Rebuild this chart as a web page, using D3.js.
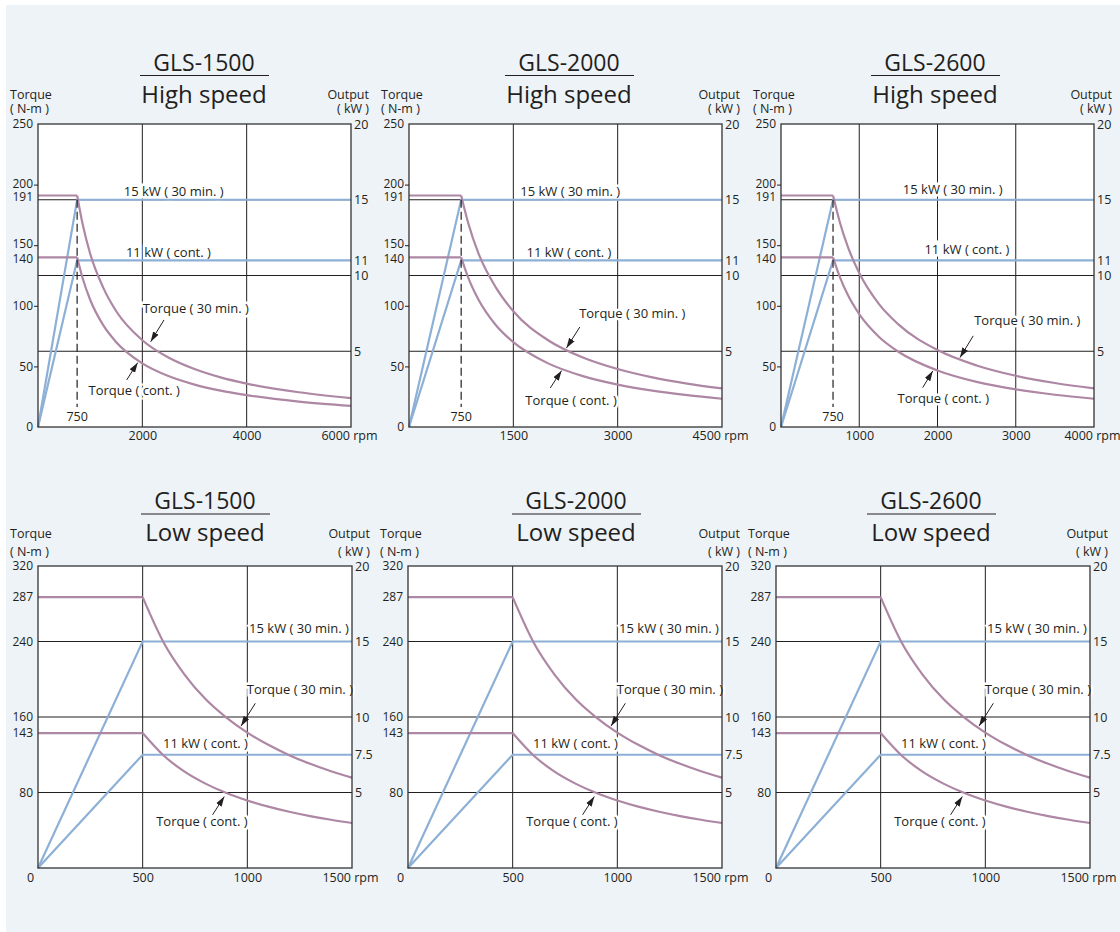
<!DOCTYPE html>
<head>
  <meta charset="utf-8">
  <script src="https://d3js.org/d3.v7.min.js"></script>
  <style>
    body { margin:0; background:#fff; }
    text { font-family: 'Open Sans', sans-serif; }
  </style>
</head>

<body>
  <script>
    // ---- data ----
    var models = ['GLS-1500', 'GLS-2000', 'GLS-2600'];

    // high speed range
    var hsMaxRpm = [6000, 4500, 4000];
    var hsRpmTicks = [[2000, 4000, 6000], [1500, 3000, 4500], [1000, 2000, 3000, 4000]];
    var hsKneeLabel = '750';
    var hsTorqueTicks = [0, 50, 100, 140, 150, 191, 200, 250];
    var hsTorqueMarks = [50, 100, 150, 200];
    var hsOutputTicks = [5, 10, 11, 15, 20];
    var hsRpm = [
      [0, 750, 850, 1000, 1250, 1500, 2000, 2500, 3000, 3500, 4000, 5000, 6000],
      [0, 750, 850, 1000, 1250, 1500, 2000, 2500, 3000, 3500, 4000, 4500],
      [0, 665, 750, 850, 1000, 1250, 1500, 2000, 2500, 3000, 3500, 4000]
    ];
    var hsTorque30 = [
      [191, 191, 168.5, 143, 115, 95.5, 71.6, 57.3, 47.8, 40.9, 35.8, 28.7, 23.9],
      [191, 191, 168.5, 143, 115, 95.5, 71.6, 57.3, 47.8, 40.9, 35.8, 31.8],
      [191, 191, 169.4, 149.4, 127, 101.6, 84.7, 63.5, 50.8, 42.3, 36.3, 31.8]
    ];
    var hsTorqueCont = [
      [140, 140, 123.5, 105, 84, 70, 52.5, 42, 35, 30, 26.3, 21, 17.5],
      [140, 140, 123.5, 105, 84, 70, 52.5, 42, 35, 30, 26.3, 23.3],
      [140, 140, 124.1, 109.5, 93.1, 74.5, 62.1, 46.6, 37.2, 31, 26.6, 23.3]
    ];
    var hsOutputRpm = [[0, 750, 6000], [0, 750, 4500], [0, 665, 4000]];
    var hsOutput30 = [0, 15, 15];
    var hsOutputCont = [0, 11, 11];

    // low speed range (same for all three)
    var lsMaxRpm = 1500;
    var lsRpmTicks = [500, 1000, 1500];
    var lsTorqueTicks = [80, 143, 160, 240, 287, 320];
    var lsOutputTicks = [5, 7.5, 10, 15, 20];
    var lsRpm = [0, 500, 600, 700, 800, 900, 1000, 1100, 1200, 1300, 1400, 1500];
    var lsTorque30 = [287, 287, 239, 205, 179, 159.4, 143.5, 130.5, 119.6, 110.4, 102.5, 95.7];
    var lsTorqueCont = [143, 143, 119.2, 102.1, 89.4, 79.4, 71.5, 65, 59.6, 55, 51.1, 47.7];
    var lsOutputRpm = [0, 500, 1500];
    var lsOutput30 = [0, 15, 15];
    var lsOutputCont = [0, 7.5, 7.5];

    // output grid lines (kW)
    var outputGrid = [5, 10, 15];

    // annotation anchors in chart units [rpm, torque]
    var hsAnn = [
      { kw30: [2600, 191], kwCont: [2500, 140],
        t30: { label: [3025, 94], tail: [2415, 88.3], tip: [2160, 70.4] },
        tCont: { label: [1845, 26.4], tail: [1700, 38.8], tip: [1911, 53.1] } },
      { kw30: [2317, 191], kwCont: [2300, 140],
        t30: { label: [3210, 90], tail: [2456, 82.5], tip: [2264, 65.2] },
        tCont: { label: [2330, 18.4], tail: [2031, 32.2], tip: [2193, 46.5] } },
      { kw30: [2195, 192], kwCont: [2376, 142.6],
        t30: { label: [3148, 84], tail: [2457, 75.2], tip: [2287, 57.3] },
        tCont: { label: [2074, 19.6], tail: [1811, 32.5], tip: [1939, 46.2] } }
    ];
    var lsAnn = { kw30: [1247, 248.5], kwCont: [800, 127],
      t30: { label: [1251, 184], tail: [1038, 174.5], tip: [970, 150.5] },
      tCont: { label: [783, 44], tail: [834, 56.4], tip: [890, 75.7] } };

    // ---- drawing ----
    var width = 1120, height = 932;
    var ink = '#231f20', purple = '#ad87a3', blue = '#8db0d6';

    var svg = d3.select('body').append('svg')
      .attr('width', width)
      .attr('height', height);

    svg.append('rect')
      .attr('x', 6).attr('y', 5)
      .attr('width', width - 6).attr('height', height - 5)
      .attr('fill', '#eef3f8');

    svg.append('defs').append('marker')
      .attr('id', 'arrow')
      .attr('markerUnits', 'userSpaceOnUse')
      .attr('viewBox', '0 -4 10 8')
      .attr('refX', 10).attr('refY', 0)
      .attr('markerWidth', 10).attr('markerHeight', 8)
      .attr('orient', 'auto')
      .append('path')
      .attr('d', 'M0,-3.2L10,0L0,3.2Z')
      .attr('fill', ink);

    function drawPanel(c) {
      var bottom = c.top + c.height, right = c.left + c.width;
      var x = d3.scaleLinear().domain([0, c.rpmMax]).range([c.left, right]);
      var yT = d3.scaleLinear().domain([0, c.torqueMax]).range([bottom, c.top]);
      var yP = d3.scaleLinear().domain([0, 20]).range([bottom, c.top]);
      var g = svg.append('g');

      g.append('rect')
        .attr('x', c.left).attr('y', c.top)
        .attr('width', c.width).attr('height', c.height)
        .attr('fill', '#fff');

      // grid
      g.selectAll('.vgrid')
        .data(c.rpmTicks.filter(d => d < c.rpmMax))
        .enter().append('line')
        .attr('x1', d => x(d)).attr('x2', d => x(d))
        .attr('y1', c.top).attr('y2', bottom)
        .attr('stroke', ink).attr('stroke-width', 1);
      g.selectAll('.hgrid')
        .data(outputGrid)
        .enter().append('line')
        .attr('x1', c.left).attr('x2', right)
        .attr('y1', d => yP(d)).attr('y2', d => yP(d))
        .attr('stroke', ink).attr('stroke-width', 1);

      var halo = g.append('g');
      var lines = g.append('g');
      var labels = g.append('g');

      function label(txt, at) {
        [halo, labels].forEach(function(layer, i) {
          var t = layer.append('text')
            .attr('x', x(at[0])).attr('y', yT(at[1]))
            .attr('text-anchor', 'middle')
            .style('font-size', '13px')
            .text(txt);
          if (i == 0) t.attr('fill', 'none').attr('stroke', '#fff').attr('stroke-width', 5);
          else t.attr('fill', ink);
        });
      }

      // output lines
      var outLine = d3.line().x(d => x(d[0])).y(d => yP(d[1]));
      [c.out30, c.outCont].forEach(function(s) {
        lines.append('path')
          .datum(d3.zip(c.outRpm, s))
          .attr('d', outLine)
          .attr('fill', 'none')
          .attr('stroke', blue).attr('stroke-width', 2.2);
      });

      // torque curves: flat up to the knee, then falling
      var flat = d3.line().x(d => x(d[0])).y(d => yT(d[1]));
      var fall = d3.line().curve(d3.curveMonotoneX).x(d => x(d[0])).y(d => yT(d[1]));
      [c.t30, c.tCont].forEach(function(s) {
        var pts = d3.zip(c.rpm, s);
        lines.append('path').datum(pts.slice(0, 2)).attr('d', flat)
          .attr('fill', 'none').attr('stroke', purple).attr('stroke-width', 2.2);
        lines.append('path').datum(pts.slice(1)).attr('d', fall)
          .attr('fill', 'none').attr('stroke', purple).attr('stroke-width', 2.2);
      });

      // knee marker
      if (c.kneeLabel) {
        var kx = x(c.outRpm[1]);
        lines.append('line')
          .attr('x1', kx).attr('x2', kx)
          .attr('y1', yP(c.out30[1])).attr('y2', bottom - 20)
          .attr('stroke', ink).attr('stroke-width', 1.2)
          .attr('stroke-dasharray', '8,4');
        labels.append('text')
          .attr('x', kx).attr('y', bottom - 6)
          .attr('text-anchor', 'middle')
          .attr('fill', ink).style('font-size', '12.5px')
          .text(c.kneeLabel);
      }

      g.append('rect')
        .attr('x', c.left).attr('y', c.top)
        .attr('width', c.width).attr('height', c.height)
        .attr('fill', 'none').attr('stroke', '#333').attr('stroke-width', 1.3);

      // annotations
      var a = c.ann;
      label('15 kW ( 30 min. )', a.kw30);
      label('11 kW ( cont. )', a.kwCont);
      label('Torque ( 30 min. )', a.t30.label);
      label('Torque ( cont. )', a.tCont.label);
      [a.t30, a.tCont].forEach(function(p) {
        labels.append('line')
          .attr('x1', x(p.tail[0])).attr('y1', yT(p.tail[1]))
          .attr('x2', x(p.tip[0])).attr('y2', yT(p.tip[1]))
          .attr('stroke', ink).attr('stroke-width', 1)
          .attr('marker-end', 'url(#arrow)');
      });

      // axes
      function styleAxis(ax, size) {
        ax.select('.domain').remove();
        ax.attr('font-family', null).attr('font-size', null).attr('color', ink);
        ax.selectAll('text').style('font-size', size || '12.5px');
      }
      var left = g.append('g')
        .attr('transform', 'translate(' + c.left + ',0)')
        .call(d3.axisLeft(yT).tickValues(c.torqueTicks).tickSize(0).tickPadding(5).tickFormat(d => d));
      styleAxis(left, '12px');
      // pairs of close labels (200/191, 150/140) are pushed slightly apart
      left.selectAll('text').attr('dy', function(d) {
        var near = c.torqueTicks.some(o => o != d && Math.abs(yT(o) - yT(d)) < 13);
        if (!near) return '0.32em';
        var above = c.torqueTicks.some(o => o < d && Math.abs(yT(o) - yT(d)) < 13);
        return above ? '0.2em' : '0.45em';
      });
      if (c.torqueMarks) {
        var marks = g.append('g')
          .attr('transform', 'translate(' + c.left + ',0)')
          .call(d3.axisLeft(yT).tickValues(c.torqueMarks).tickSize(4).tickFormat(''));
        styleAxis(marks);
      }
      var rightAx = g.append('g')
        .attr('transform', 'translate(' + right + ',0)')
        .call(d3.axisRight(yP).tickValues(c.outputTicks).tickSize(0).tickPadding(3).tickFormat(d => d));
      styleAxis(rightAx);
      var xTicks = c.zeroBelow ? [0].concat(c.rpmTicks) : c.rpmTicks;
      var bottomAx = g.append('g')
        .attr('transform', 'translate(0,' + bottom + ')')
        .call(d3.axisBottom(x).tickValues(xTicks).tickSize(0).tickPadding(c.xPad)
          .tickFormat(d => d == c.rpmMax ? d + ' rpm' : d));
      styleAxis(bottomAx);
      bottomAx.selectAll('text').attr('dx', d => d == 0 ? -8 : (d == c.rpmMax ? -2 : 0));

      // axis titles
      [['Torque', c.unitY[0]], ['( N-m )', c.unitY[1]]].forEach(function(t) {
        g.append('text').attr('x', c.left - 28).attr('y', c.top + t[1])
          .attr('fill', ink).style('font-size', '12.5px').text(t[0]);
      });
      [['Output', c.unitY[0]], ['( kW )', c.unitY[1]]].forEach(function(t) {
        g.append('text').attr('x', right + 18).attr('y', c.top + t[1])
          .attr('text-anchor', 'end')
          .attr('fill', ink).style('font-size', '12.5px').text(t[0]);
      });

      // title
      var tx = c.left + c.titleDx;
      g.append('text').attr('x', tx).attr('y', c.top + c.titleY[0])
        .attr('text-anchor', 'middle').attr('fill', ink)
        .style('font-size', '23px').text(c.model);
      g.append('line')
        .attr('x1', tx - 64).attr('x2', tx + 65)
        .attr('y1', c.top + c.titleY[1]).attr('y2', c.top + c.titleY[1])
        .attr('stroke', ink).attr('stroke-width', 1.2);
      g.append('text').attr('x', tx).attr('y', c.top + c.titleY[2])
        .attr('text-anchor', 'middle').attr('fill', ink)
        .style('font-size', '24px').text(c.speed);
    }

    var topLefts = [38, 409, 781], topDx = [166, 160, 154];
    var botLefts = [38, 408, 776], botDx = [167, 168, 155];

    models.forEach(function(m, i) {
      drawPanel({
        model: m, speed: 'High speed',
        left: topLefts[i], top: 124, width: 313, height: 303,
        rpmMax: hsMaxRpm[i], rpmTicks: hsRpmTicks[i],
        torqueMax: 250, torqueTicks: hsTorqueTicks, torqueMarks: hsTorqueMarks,
        outputTicks: hsOutputTicks,
        rpm: hsRpm[i], t30: hsTorque30[i], tCont: hsTorqueCont[i],
        outRpm: hsOutputRpm[i], out30: hsOutput30, outCont: hsOutputCont,
        kneeLabel: hsKneeLabel, ann: hsAnn[i],
        titleDx: topDx[i], titleY: [-53, -48.5, -21], unitY: [-25, -11], xPad: 4
      });
      drawPanel({
        model: m, speed: 'Low speed',
        left: botLefts[i], top: 566, width: 314, height: 302,
        rpmMax: lsMaxRpm, rpmTicks: lsRpmTicks,
        torqueMax: 320, torqueTicks: lsTorqueTicks,
        outputTicks: lsOutputTicks,
        rpm: lsRpm, t30: lsTorque30, tCont: lsTorqueCont,
        outRpm: lsOutputRpm, out30: lsOutput30, outCont: lsOutputCont,
        ann: lsAnn, zeroBelow: true,
        titleDx: botDx[i], titleY: [-57.5, -52, -25], unitY: [-28, -10.5], xPad: 5.5
      });
    });
  </script>
</body>
